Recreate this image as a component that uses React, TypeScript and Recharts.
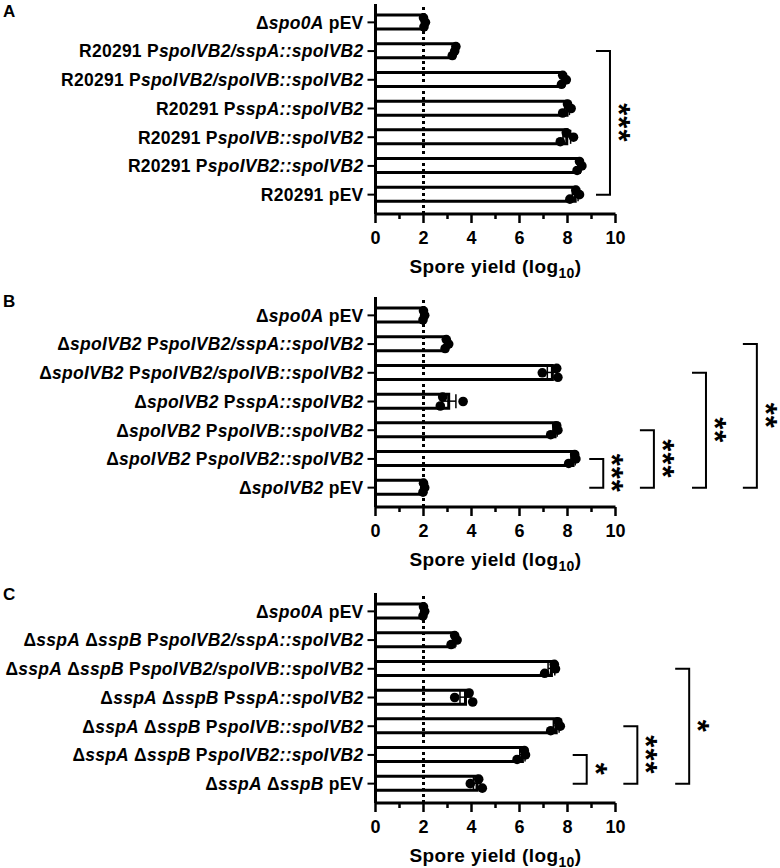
import {
    ComposedChart,
    Bar,
    Scatter,
    XAxis,
    YAxis,
    ReferenceLine,
    ErrorBar,
} from 'recharts';

const FONT = '"Liberation Sans", Arial, sans-serif';

// "_" toggles italic in the category labels
const labelsA = [
    'Δ_spo0A_ pEV',
    'R20291 P_spoIVB2/sspA::spoIVB2_',
    'R20291 P_spoIVB2/spoIVB::spoIVB2_',
    'R20291 P_sspA::spoIVB2_',
    'R20291 P_spoIVB::spoIVB2_',
    'R20291 P_spoIVB2::spoIVB2_',
    'R20291 pEV',
];
const labelsB = [
    'Δ_spo0A_ pEV',
    'Δ_spoIVB2_ P_spoIVB2/sspA::spoIVB2_',
    'Δ_spoIVB2_ P_spoIVB2/spoIVB::spoIVB2_',
    'Δ_spoIVB2_ P_sspA::spoIVB2_',
    'Δ_spoIVB2_ P_spoIVB::spoIVB2_',
    'Δ_spoIVB2_ P_spoIVB2::spoIVB2_',
    'Δ_spoIVB2_ pEV',
];
const labelsC = [
    'Δ_spo0A_ pEV',
    'Δ_sspA_ Δ_sspB_ P_spoIVB2/sspA::spoIVB2_',
    'Δ_sspA_ Δ_sspB_ P_spoIVB2/spoIVB::spoIVB2_',
    'Δ_sspA_ Δ_sspB_ P_sspA::spoIVB2_',
    'Δ_sspA_ Δ_sspB_ P_spoIVB::spoIVB2_',
    'Δ_sspA_ Δ_sspB_ P_spoIVB2::spoIVB2_',
    'Δ_sspA_ Δ_sspB_ pEV',
];

const meanA = [2.03, 3.28, 7.83, 7.98, 7.97, 8.5, 8.32];
const semA = [0.02, 0.04, 0.06, 0.1, 0.16, 0.06, 0.12];
const rep1A = [2.0, 3.35, 7.8, 8.0, 7.95, 8.5, 8.35];
const rep2A = [2.08, 3.3, 7.95, 8.15, 8.25, 8.6, 8.5];
const rep3A = [2.02, 3.2, 7.75, 7.8, 7.7, 8.4, 8.1];

const meanB = [2.01, 2.97, 7.37, 3.05, 7.48, 8.23, 2.01];
const semB = [0.02, 0.04, 0.21, 0.3, 0.09, 0.09, 0.02];
const rep1B = [2.0, 2.95, 7.55, 2.8, 7.55, 8.3, 2.0];
const rep2B = [2.05, 3.05, 6.95, 3.65, 7.6, 8.35, 2.05];
const rep3B = [1.98, 2.9, 7.6, 2.7, 7.3, 8.05, 1.98];

const meanC = [2.01, 3.28, 7.33, 3.75, 7.53, 6.12, 4.23];
const semC = [0.02, 0.07, 0.14, 0.23, 0.12, 0.11, 0.15];
const rep1C = [2.0, 3.3, 7.45, 3.9, 7.6, 6.2, 4.3];
const rep2C = [2.05, 3.4, 7.5, 3.3, 7.7, 6.25, 3.95];
const rep3C = [1.98, 3.15, 7.05, 4.05, 7.3, 5.9, 4.45];

const xMajor = [0, 2, 4, 6, 8, 10];
const xMinor = [1, 3, 5, 7, 9];
const xTicks = [...xMajor, ...xMinor].sort((a, b) => a - b);

type Bracket = { from: number; to: number; at: number; stars: string };

const bracketsA: Bracket[] = [{ from: 1, to: 6, at: 9.77, stars: '***' }];
const bracketsB: Bracket[] = [
    { from: 5, to: 6, at: 9.49, stars: '***' },
    { from: 4, to: 6, at: 11.6, stars: '***' },
    { from: 2, to: 6, at: 13.77, stars: '**' },
    { from: 1, to: 6, at: 15.89, stars: '**' },
];
const bracketsC: Bracket[] = [
    { from: 5, to: 6, at: 8.8, stars: '*' },
    { from: 4, to: 6, at: 10.91, stars: '***' },
    { from: 2, to: 6, at: 13.07, stars: '*' },
];

const DOT_OFFSETS = [-4.5, 0, 4.5];

function buildRows(labels: string[], mean: number[], sem: number[], r1: number[], r2: number[], r3: number[]) {
    return labels.map((name, i) => ({ name, mean: mean[i], sem: sem[i], r1: r1[i], r2: r2[i], r3: r3[i] }));
}

function CategoryTick({ x, y, payload }: any) {
    const parts = String(payload.value).split('_');
    return (
        <text
            x={x}
            y={y}
            dy="0.36em"
            textAnchor="end"
            fontFamily={FONT}
            fontWeight="bold"
            fontSize={17.5}
            letterSpacing={0.25}
            fill="#000"
        >
            {parts.map((p, i) => (
                <tspan key={i} fontStyle={i % 2 ? 'italic' : 'normal'}>
                    {p}
                </tspan>
            ))}
        </text>
    );
}

function ValueTick({ x, y, payload }: any) {
    const major = xMajor.includes(payload.value);
    return (
        <g>
            <line x1={x} x2={x} y1={y} y2={y + (major ? 9 : 5)} stroke="#000" strokeWidth={2.5} />
            {major && (
                <text x={x} y={y + 24} dy="0.36em" textAnchor="middle" fontFamily={FONT} fontWeight="bold" fontSize={18} fill="#000">
                    {payload.value}
                </text>
            )}
        </g>
    );
}

function AxisTitle(props: any) {
    const vb = props.viewBox;
    return (
        <text
            x={vb.x + vb.width / 2}
            y={vb.y + 52.5}
            dy="0.36em"
            textAnchor="middle"
            fontFamily={FONT}
            fontWeight="bold"
            fontSize={19}
            letterSpacing={0.4}
            fill="#000"
        >
            Spore yield (log
            <tspan fontSize={14} dy={5}>10</tspan>
            <tspan dy={-5}>)</tspan>
        </text>
    );
}

function bracketShape(stars: string) {
    return (p: any) => {
        const { x1, y1, y2 } = p;
        const arm = 14;
        const fs = 31;
        const cx = x1 + 16;
        const cy = (y1 + y2) / 2;
        return (
            <g>
                <path
                    d={`M${x1 - arm},${y1}H${x1}V${y2}H${x1 - arm}`}
                    fill="none"
                    stroke="#000"
                    strokeWidth={2}
                />
                <text
                    transform={`translate(${cx},${cy}) rotate(90)`}
                    y={0.58 * fs}
                    textAnchor="middle"
                    fontFamily={FONT}
                    fontWeight="bold"
                    fontSize={fs}
                    letterSpacing={1}
                    fill="#000"
                >
                    {stars}
                </text>
            </g>
        );
    };
}

function dotShape(offset: number) {
    return (p: any) => <circle cx={p.cx} cy={p.cy + offset} r={4.8} fill="#000" />;
}

type PanelProps = {
    top: number;
    rows: ReturnType<typeof buildRows>;
    brackets: Bracket[];
};

function Panel({ top, rows, brackets }: PanelProps) {
    return (
        <div style={{ position: 'absolute', left: 0, top }}>
            <ComposedChart
                width={780}
                height={290}
                data={rows}
                layout="vertical"
                margin={{ top: 4, right: 164.5, bottom: 0, left: 0 }}
            >
                <XAxis
                    type="number"
                    domain={[0, 10]}
                    ticks={xTicks}
                    interval={0}
                    allowDataOverflow
                    height={76}
                    tickSize={0}
                    tickMargin={0}
                    tickLine={false}
                    tick={<ValueTick />}
                    axisLine={{ stroke: '#000', strokeWidth: 3 }}
                    label={{ content: (p: any) => <AxisTitle {...p} /> }}
                />
                <YAxis
                    type="category"
                    dataKey="name"
                    width={375.5}
                    interval={0}
                    allowDuplicatedCategory={false}
                    padding={{ top: 4, bottom: 5 }}
                    tickSize={8}
                    tickMargin={4}
                    tick={<CategoryTick />}
                    tickLine={{ stroke: '#000', strokeWidth: 2 }}
                    axisLine={{ stroke: '#000', strokeWidth: 3 }}
                />
                <Bar dataKey="mean" fill="#fff" stroke="#000" strokeWidth={3} barSize={14} isAnimationActive={false}>
                    <ErrorBar dataKey="sem" direction="x" width={7} stroke="#000" strokeWidth={1.5} />
                </Bar>
                <ReferenceLine x={2} stroke="#000" strokeWidth={3} strokeDasharray="3 3" />
                <Scatter dataKey="r1" fill="#000" shape={dotShape(DOT_OFFSETS[0])} isAnimationActive={false} />
                <Scatter dataKey="r2" fill="#000" shape={dotShape(DOT_OFFSETS[1])} isAnimationActive={false} />
                <Scatter dataKey="r3" fill="#000" shape={dotShape(DOT_OFFSETS[2])} isAnimationActive={false} />
                {brackets.map((b, i) => (
                    <ReferenceLine
                        key={i}
                        ifOverflow="visible"
                        segment={[
                            { x: b.at, y: rows[b.from].name },
                            { x: b.at, y: rows[b.to].name },
                        ]}
                        shape={bracketShape(b.stars)}
                    />
                ))}
            </ComposedChart>
        </div>
    );
}

const rowsA = buildRows(labelsA, meanA, semA, rep1A, rep2A, rep3A);
const rowsB = buildRows(labelsB, meanB, semB, rep1B, rep2B, rep3B);
const rowsC = buildRows(labelsC, meanC, semC, rep1C, rep2C, rep3C);

export default function App() {
    return (
        <div style={{ position: 'absolute', left: 0, top: 0, width: 780, height: 868, background: '#fff', overflow: 'hidden' }}>
            <Panel top={0} rows={rowsA} brackets={bracketsA} />
            <Panel top={293.3} rows={rowsB} brackets={bracketsB} />
            <Panel top={588.7} rows={rowsC} brackets={bracketsC} />
            <svg width={780} height={868} style={{ position: 'absolute', left: 0, top: 0, pointerEvents: 'none' }}>
                <text x={3} y={17} fontFamily={FONT} fontWeight="bold" fontSize={17} fill="#000">A</text>
                <text x={3} y={307} fontFamily={FONT} fontWeight="bold" fontSize={17} fill="#000">B</text>
                <text x={3} y={600} fontFamily={FONT} fontWeight="bold" fontSize={17} fill="#000">C</text>
            </svg>
        </div>
    );
}
